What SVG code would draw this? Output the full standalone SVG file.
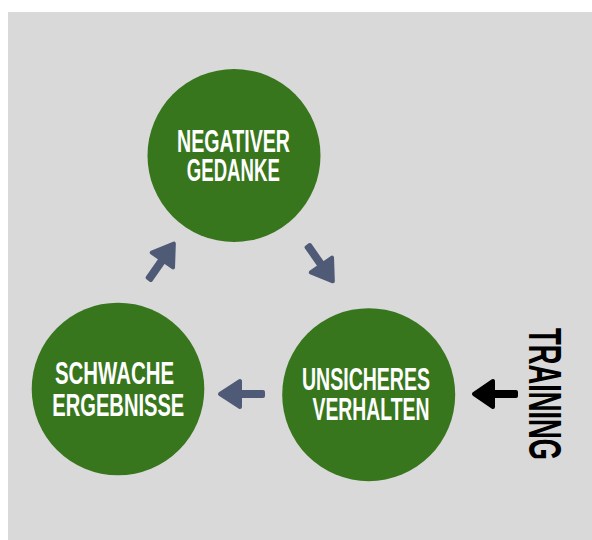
<svg xmlns="http://www.w3.org/2000/svg" width="592" height="540" viewBox="0 0 592 540">
<style>
.node{fill:#38761d}
.lbl{font-family:"Liberation Sans",Arial,sans-serif;font-weight:bold;font-size:32px;fill:#ffffff;text-anchor:middle}
.arr{fill:#4f5b76;stroke:#4f5b76;stroke-width:4;stroke-linejoin:round}
.arrK{fill:#000000;stroke:#000000;stroke-width:4;stroke-linejoin:round}
.side{font-family:"Liberation Sans",Arial,sans-serif;font-weight:bold;font-size:46px;fill:#000000;text-anchor:middle}
</style>
<defs>
<g id="arrowShape">
<rect x="20" y="-2" width="25" height="4"/>
<polygon points="2,0 22,-13 22,13"/>
</g>
</defs>
<rect x="8" y="12" width="584" height="528" fill="#d9d9d9"/>
<g id="connectors">
<g class="arr" transform="translate(334,283) rotate(235)"><use href="#arrowShape"/></g>
<g class="arr" transform="translate(175,242) rotate(125)"><use href="#arrowShape"/></g>
<g class="arr" transform="translate(218,394)"><rect x="20" y="-2" width="25" height="4"/><polygon points="2,0 22,-13 22,13"/></g>
<g class="arrK" transform="translate(472,394)"><rect x="20" y="-2" width="24" height="4"/><polygon points="2,0 21,-13 21,13"/></g>
</g>
<g id="node-negativer">
<circle class="node" cx="234" cy="155.5" r="86.5"/>
<text class="lbl" x="233.5" y="151.7" textLength="113" lengthAdjust="spacingAndGlyphs">NEGATIVER</text>
<text class="lbl" x="233.3" y="180.7" textLength="93" lengthAdjust="spacingAndGlyphs">GEDANKE</text>
</g>
<g id="node-schwache">
<circle class="node" cx="118" cy="389" r="86.3"/>
<text class="lbl" x="114.5" y="384.3" textLength="119" lengthAdjust="spacingAndGlyphs">SCHWACHE</text>
<text class="lbl" x="118.3" y="415.7" textLength="132" lengthAdjust="spacingAndGlyphs">ERGEBNISSE</text>
</g>
<g id="node-unsicheres">
<circle class="node" cx="368.7" cy="394.7" r="86.5"/>
<text class="lbl" x="366" y="390" textLength="128" lengthAdjust="spacingAndGlyphs">UNSICHERES</text>
<text class="lbl" x="371" y="420" textLength="117" lengthAdjust="spacingAndGlyphs">VERHALTEN</text>
</g>
<g id="training">
<text class="side" x="528.5" y="394" transform="rotate(90 528.5 394)" textLength="132" lengthAdjust="spacingAndGlyphs">TRAINING</text>
</g>
</svg>
